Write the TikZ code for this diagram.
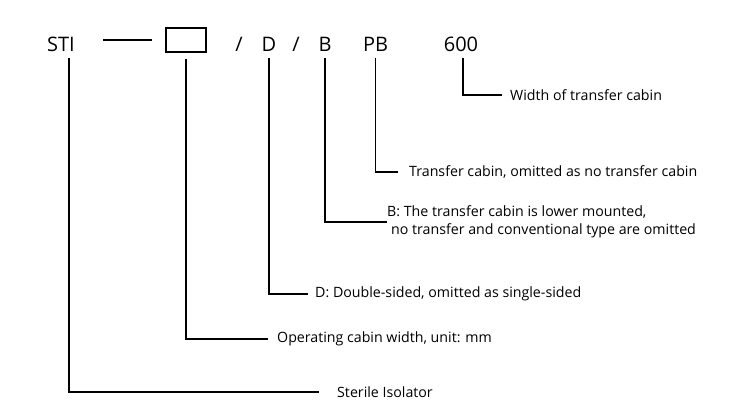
\documentclass[tikz,border=0pt]{standalone}
\usepackage{fontspec}
\setmainfont{Open Sans}
\begin{document}
\begin{tikzpicture}[
        x=1pt, y=-1pt,
        code/.style={inner sep=0pt, anchor=base, font=\fontsize{20}{22}\selectfont},
        lbl/.style={inner sep=0pt, anchor=west, align=left, font=\fontsize{14.2}{18}\selectfont},
        link/.style={draw, line width=1.8pt, shorten <=6pt},
    ]
    \useasboundingbox (0,0) rectangle (750,414);
    % model code
    \node[code](sti) at (61,52){STI};
    \draw[line width=1.6pt] (103,40) -- (152,40);
    \node[draw, line width=1.8pt, minimum width=40pt, minimum height=24pt, inner sep=0pt](box) at (186,40){};
    \node[code](s1) at (239,52){/};
    \node[code](d) at (269,52){D};
    \node[code](s2) at (296,52){/};
    \node[code](b) at (325,52){B};
    \node[code](pb) at (375.5,52){PB};
    \node[code](w) at (461,52){600};
    % explanations
    \node[lbl](lw) at (510,95){Width of transfer cabin};
    \node[lbl](lpb) at (409,172){Transfer cabin, omitted as no transfer cabin};
    \node[lbl](lb) at (387,222){B: The transfer cabin is lower mounted,\\\hspace*{4pt}no transfer and conventional type are omitted};
    \node[lbl](ld) at (315,294){D: Double-sided, omitted as single-sided};
    \node[lbl](lbox) at (277,339){Operating cabin width, unit: mm};
    \node[lbl](lsti) at (337,392){Sterile Isolator};
    % leaders
    \draw[link] ([xshift=2pt]w.south) |- ([xshift=-8pt]lw.west);
    \draw[link] (pb.south) |- ([xshift=-11pt]lpb.west);
    \draw[link] (b.south) |- (lb.west);
    \draw[link] (d.south) |- ([xshift=-7pt]ld.west);
    \draw[link] (box.south) |- ([xshift=-9pt]lbox.west);
    \draw[link] ([xshift=8pt]sti.south) |- ([xshift=-18pt]lsti.west);
\end{tikzpicture}
\end{document}
